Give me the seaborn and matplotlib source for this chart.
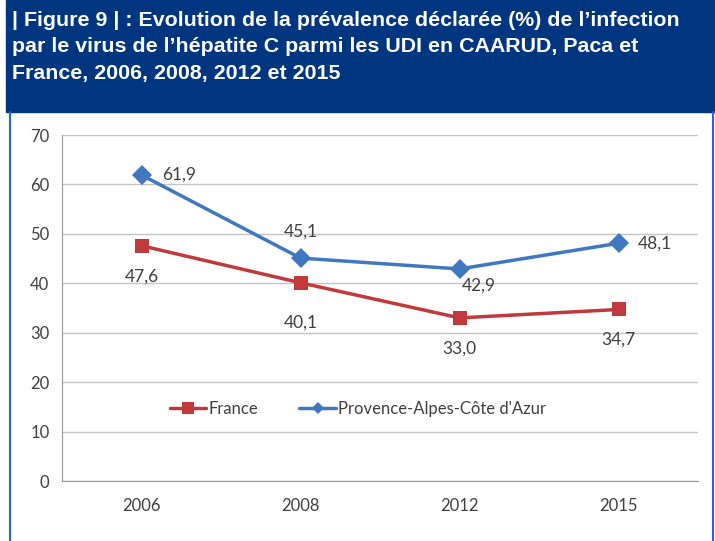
import matplotlib
matplotlib.use("Agg")
import matplotlib.pyplot as plt
import seaborn as sns
import pandas as pd
from matplotlib.patches import Rectangle
from matplotlib.lines import Line2D

# Données
annees = ["2006", "2008", "2012", "2015"]
france = [47.6, 40.1, 33.0, 34.7]
paca = [61.9, 45.1, 42.9, 48.1]
series = ["France", "Provence-Alpes-Côte d'Azur"]
titre = ("| Figure 9 | : Evolution de la prévalence déclarée (%) de l’infection\n"
         "par le virus de l’hépatite C parmi les UDI en CAARUD, Paca et\n"
         "France, 2006, 2008, 2012 et 2015")

couleurs = {"France": "#C0393B", "Provence-Alpes-Côte d'Azur": "#3F78C0"}
marqueurs = {"France": "s", "Provence-Alpes-Côte d'Azur": "D"}

df = pd.DataFrame({
    "annee": annees * 2,
    "valeur": france + paca,
    "serie": [series[0]] * 4 + [series[1]] * 4,
})

sns.set_style("white")
plt.rcParams["font.family"] = ["Lato", "DejaVu Sans"]

W, H = 715, 541
fig = plt.figure(figsize=(W / 100, H / 100), dpi=100)

# bandeau du titre
fig.patches.append(Rectangle((6 / W, 1 - 112 / H), 1 - 6 / W, 112 / H,
                             transform=fig.transFigure, color="#003580", zorder=0))
fig.text(12 / W, 1 - 11 / H, titre, color="white", fontsize=15.4, fontweight="bold",
         family="Liberation Sans", va="top", ha="left", linespacing=1.5)
# bordures bleues
fig.add_artist(Line2D([9.5 / W, 9.5 / W], [0, 1 - 112 / H], transform=fig.transFigure,
                      color="#2A64D8", lw=1.5))
fig.add_artist(Line2D([712.5 / W, 712.5 / W], [0, 1 - 112 / H], transform=fig.transFigure,
                      color="#2A64D8", lw=1.5))

ax = fig.add_axes([62 / W, 60 / H, 636 / W, 346 / H])
sns.lineplot(data=df, x="annee", y="valeur", hue="serie", style="serie",
             palette=couleurs, markers=marqueurs, dashes=False, lw=2.5,
             markersize=10, markeredgewidth=0, ax=ax, legend=False, sort=False)

ax.set_xlim(-0.5, 3.5)
ax.set_ylim(0, 70)
ax.set_yticks(range(0, 71, 10))
ax.yaxis.grid(True, color="#C4C4C4", lw=1)
ax.set_axisbelow(True)
ax.set_xlabel("")
ax.set_ylabel("")
for s in ["top", "right"]:
    ax.spines[s].set_visible(False)
for s in ["left", "bottom"]:
    ax.spines[s].set_color("#999999")
ax.set_xticks(range(4))
ax.set_xticklabels(annees)
ax.set_xticks([-0.5, 0.5, 1.5, 2.5, 3.5], minor=True)
ax.tick_params(axis="x", which="major", length=0, pad=12, labelsize=12, labelcolor="#404040")
ax.tick_params(axis="x", which="minor", length=5, color="#999999", direction="out")
ax.tick_params(axis="y", length=5, color="#999999", labelsize=12, labelcolor="#404040", pad=4)

# étiquettes de données
def lab(v):
    return f"{v:.1f}".replace(".", ",")

dec_paca = [(27, 0), (0, 19), (14, -12), (26, 0)]
dec_fr = [(0, -22), (0, -29), (0, -22), (0, -22)]
for i, v in enumerate(paca):
    ax.annotate(lab(v), (i, v), xytext=dec_paca[i], textcoords="offset points",
                ha="center", va="center", fontsize=12.5, color="#404040")
for i, v in enumerate(france):
    ax.annotate(lab(v), (i, v), xytext=dec_fr[i], textcoords="offset points",
                ha="center", va="center", fontsize=12.5, color="#404040")

poignees = [Line2D([], [], color=couleurs[s], marker=marqueurs[s], lw=2.5,
                   markersize=8 if s == "France" else 6, markeredgewidth=0) for s in series]
ax.legend(poignees, series, loc="center", bbox_to_anchor=(0.465, 0.208), ncol=2,
          frameon=False, fontsize=12, handlelength=2.2, handletextpad=0.1,
          columnspacing=2.5, labelcolor="#404040")

fig.savefig("out.png", dpi=100)
